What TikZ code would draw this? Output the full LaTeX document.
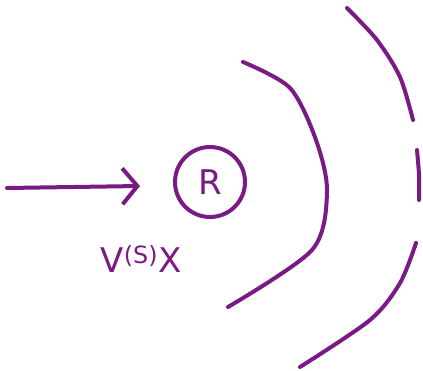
\documentclass[tikz,border=0pt]{standalone}
\usepackage{fontspec}
\setmainfont{DejaVu Sans}
\usepackage{tikz}
\usetikzlibrary{positioning,arrows.meta}
\definecolor{inkpurple}{RGB}{122,26,132}

\begin{document}
\begin{tikzpicture}[
    x=1pt, y=-1pt,
    ink/.style={draw=inkpurple, line width=4pt, line cap=round, line join=round},
    target/.style={ink, circle, minimum size=70pt, inner sep=0pt,
                   text=inkpurple, font=\fontsize{34}{34}\selectfont},
    op/.style={ink, -{Straight Barb[length=15pt,width=36pt]}},
    wave/.style={ink},
  ]
  \useasboundingbox (0,0) rectangle (423,371);
  % scatterer
  \node[target] (R) at (210,182) {R};
  % incoming beam
  \coordinate (src) at (7,188);
  \coordinate (hit) at (140,186);
  \draw[op] (src) -- (hit);
  \node[text=inkpurple, font=\fontsize{34}{34}\selectfont] (lbl) at (141,259)
    {V\textsuperscript{(S)}X};

  % outgoing waves
  \draw[wave] plot[smooth] coordinates {(243,62) (290,88) (316,140)
    (327,192) (312,250) (228,307)};
  \draw[wave] plot[smooth] coordinates {(347,8) (377,40) (400,77) (413,120)};
  \draw[wave] plot[smooth] coordinates {(417,150) (419,175) (419,200)};
  \draw[wave] plot[smooth] coordinates {(416,243) (400,283) (370,320) (300,367)};
\end{tikzpicture}
\end{document}
